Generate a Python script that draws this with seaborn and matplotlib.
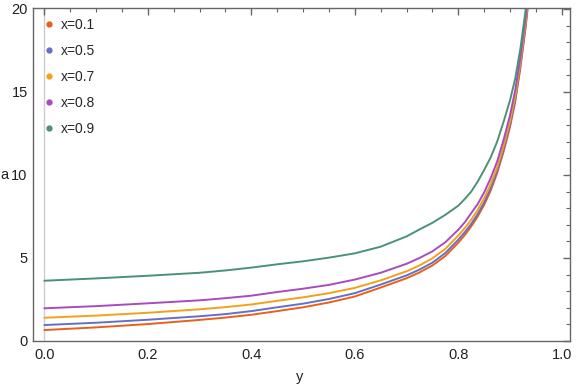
import pandas as pd
import seaborn as sns
import matplotlib.pyplot as plt
from matplotlib.lines import Line2D
from matplotlib.ticker import MultipleLocator

# y samples, a values for each x
y_vals = [0.0, 0.1, 0.2, 0.3, 0.35, 0.4, 0.45, 0.5, 0.55, 0.6, 0.65, 0.7,
          0.725, 0.75, 0.775, 0.8, 0.8125, 0.825, 0.8375, 0.85, 0.8625,
          0.875, 0.8875, 0.9, 0.91, 0.92, 0.93, 0.94]
a_x01 = [0.66, 0.82, 1.02, 1.27, 1.41, 1.58, 1.8, 2.03, 2.32, 2.68, 3.22, 3.78,
         4.13, 4.55, 5.12, 5.92, 6.38, 6.9, 7.5, 8.2, 9.05,
         10.1, 11.4, 12.9, 14.4, 16.45, 18.85, 21.75]
a_x05 = [0.96, 1.1, 1.28, 1.49, 1.62, 1.8, 2.03, 2.25, 2.53, 2.88, 3.4, 3.95,
         4.3, 4.72, 5.3, 6.1, 6.55, 7.05, 7.65, 8.35, 9.2,
         10.25, 11.55, 13.05, 14.55, 16.6, 19.0, 21.9]
a_x07 = [1.4, 1.53, 1.7, 1.91, 2.04, 2.2, 2.42, 2.63, 2.88, 3.2, 3.65, 4.2,
         4.55, 4.98, 5.55, 6.35, 6.8, 7.3, 7.9, 8.6, 9.45,
         10.45, 11.75, 13.25, 14.75, 16.8, 19.2, 22.1]
a_x08 = [1.97, 2.1, 2.27, 2.45, 2.58, 2.73, 2.95, 3.15, 3.38, 3.7, 4.11, 4.65,
         5.0, 5.4, 5.95, 6.7, 7.15, 7.7, 8.25, 8.95, 9.8,
         10.8, 12.1, 13.6, 15.1, 17.1, 19.5, 22.4]
a_x09 = [3.63, 3.77, 3.93, 4.11, 4.25, 4.42, 4.62, 4.8, 5.02, 5.28, 5.68, 6.3,
         6.72, 7.12, 7.6, 8.15, 8.55, 9.0, 9.6, 10.3, 11.05,
         12.0, 13.2, 14.5, 15.8, 17.6, 19.9, 22.8]

labels = ["x=0.1", "x=0.5", "x=0.7", "x=0.8", "x=0.9"]
colors = ["#E8601C", "#6470C8", "#F4A11A", "#A84BC0", "#4A9277"]
series = [a_x01, a_x05, a_x07, a_x08, a_x09]

frames = []
for lab, vals in zip(labels, series):
    frames.append(pd.DataFrame({"y": y_vals, "a": vals, "x": lab}))
df = pd.concat(frames, ignore_index=True)

sns.set_style("white")
plt.rcParams['font.family'] = ['Liberation Sans', 'DejaVu Sans']

fig = plt.figure(figsize=(5.76, 3.85), dpi=100)
ax = fig.add_axes([33.3 / 576, 44 / 385, (570 - 33.3) / 576, (341 - 8.3) / 385])

ax.axvline(0, color="#CCCCCC", lw=1.0, zorder=0)
sns.lineplot(data=df, x="y", y="a", hue="x", palette=colors, lw=1.4,
             legend=False, ax=ax, sort=False)

ax.set_xlim(-0.0213, 1.0159)
ax.set_ylim(0, 20.04)

ax.xaxis.set_minor_locator(MultipleLocator(0.05))
ax.yaxis.set_minor_locator(MultipleLocator(1))
ax.set_xticks([0, 0.2, 0.4, 0.6, 0.8, 1.0])
ax.set_xticklabels(["0.0", "0.2", "0.4", "0.6", "0.8", "1.0"])
ax.set_yticks([0, 5, 10, 15, 20])
ax.set_yticklabels(["0", "5", "10", "15", "20"])

for s in ax.spines.values():
    s.set_color("#666666")
    s.set_linewidth(1.0)
ax.tick_params(which="both", direction="in", top=True, right=True,
               color="#666666", labelsize=10.5, labelcolor="#222222")
ax.tick_params(axis="x", pad=5)
ax.tick_params(axis="y", pad=4)
ax.tick_params(which="major", length=5, width=1.0)
ax.tick_params(which="minor", length=2.8, width=0.8)

ax.set_xlabel("")
ax.set_ylabel("")
fig.text(300 / 576, 1 - 377 / 385, "y", ha="center", va="center",
         fontsize=10.5, color="#222222")
fig.text(4 / 576, 1 - 175 / 385, "a", ha="center", va="center",
         fontsize=10.5, color="#222222")

handles = [Line2D([], [], marker="o", ls="", color=c, markersize=3.5)
           for c in colors]
ax.legend(handles, labels, loc="upper left", bbox_to_anchor=(-0.005, 1.006),
          frameon=False, fontsize=10, handletextpad=0.3, labelspacing=0.86,
          handlelength=1.0, borderpad=0.35)

fig.savefig("out.png", dpi=100)
